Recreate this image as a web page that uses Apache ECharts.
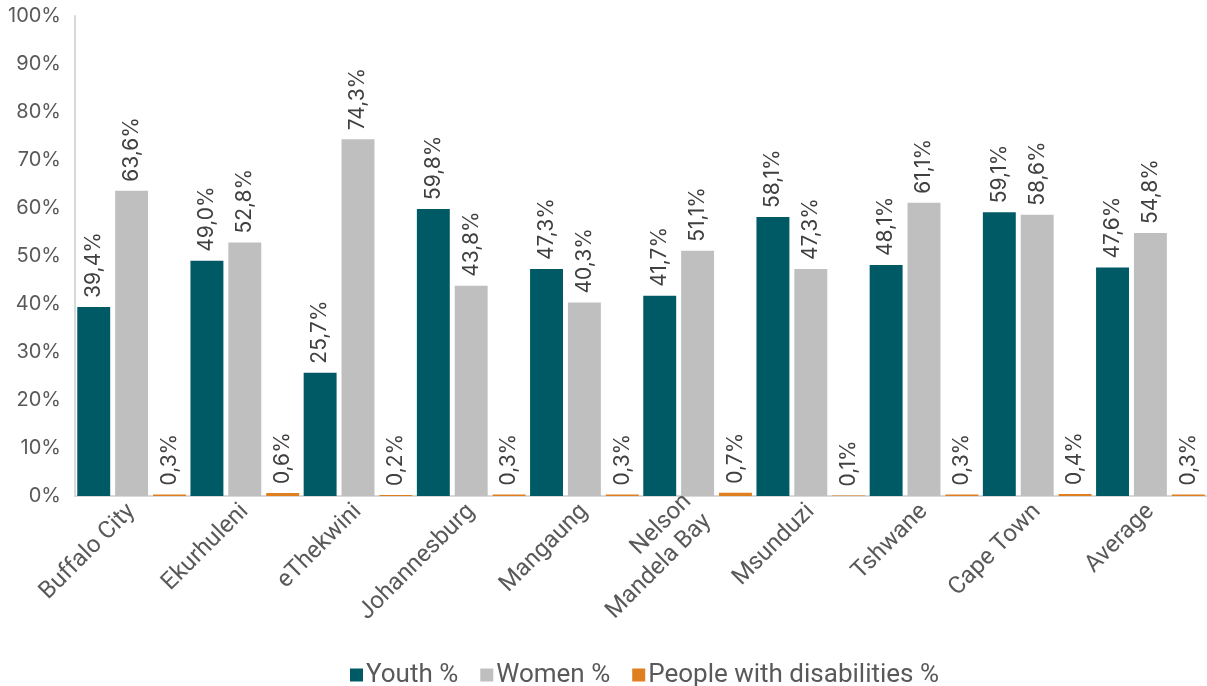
<!DOCTYPE html>
<html>
<head>
<meta charset="utf-8">
<script src="https://cdn.jsdelivr.net/npm/echarts@6/dist/echarts.min.js"></script>
<style>
  html, body { margin: 0; padding: 0; background: #fff; }
  #chart { width: 1207px; height: 686px; }
</style>
</head>
<body>
<div id="chart"></div>
<script>
var categories = ['Buffalo City', 'Ekurhuleni', 'eThekwini', 'Johannesburg', 'Mangaung',
    'Nelson\nMandela Bay', 'Msunduzi', 'Tshwane', 'Cape Town', 'Average'];
var youth = [39.4, 49.0, 25.7, 59.8, 47.3, 41.7, 58.1, 48.1, 59.1, 47.6];
var women = [63.6, 52.8, 74.3, 43.8, 40.3, 51.1, 47.3, 61.1, 58.6, 54.8];
var disabilities = [0.3, 0.6, 0.2, 0.3, 0.3, 0.7, 0.1, 0.3, 0.4, 0.3];

var font = 'Inter, "Noto Sans", sans-serif';
var textFont = 'Roboto, "Liberation Sans", sans-serif';

function pct(p) {
    return p.value.toFixed(1).replace('.', ',') + '%';
}

var barLabel = {
    show: true,
    position: 'top',
    rotate: 90,
    align: 'left',
    verticalAlign: 'middle',
    distance: 9,
    color: '#404040',
    fontSize: 21,
    fontFamily: font,
    formatter: pct
};

var myChart = echarts.init(document.getElementById('chart'));

var option = {
    animation: false,
    grid: {
        left: 75,
        right: 0,
        top: 16,
        bottom: 190
    },
    legend: {
        top: 657,
        left: 345,
        itemWidth: 13,
        itemHeight: 13,
        itemGap: 22,
        icon: 'rect',
        textStyle: {
            color: '#595959',
            fontSize: 26,
            fontFamily: textFont,
            padding: [0, 0, 0, -2]
        }
    },
    xAxis: {
        type: 'category',
        data: categories,
        axisLine: { lineStyle: { color: '#d9d9d9', width: 2 } },
        axisTick: { show: false },
        axisLabel: {
            rotate: 45,
            interval: 0,
            margin: 12,
            color: '#595959',
            fontSize: 24,
            fontFamily: textFont,
            lineHeight: 28
        }
    },
    yAxis: {
        type: 'value',
        min: 0,
        max: 100,
        interval: 10,
        axisLine: { show: true, lineStyle: { color: '#d9d9d9', width: 2 } },
        axisTick: { show: false },
        splitLine: { show: false },
        axisLabel: {
            margin: 14,
            color: '#595959',
            fontSize: 20,
            fontFamily: font,
            formatter: '{value}%'
        }
    },
    series: [
        {
            name: 'Youth %',
            type: 'bar',
            data: youth,
            barGap: '15%',
            barCategoryGap: '4%',
            itemStyle: { color: '#005a66' },
            label: barLabel
        },
        {
            name: 'Women %',
            type: 'bar',
            data: women,
            itemStyle: { color: '#bfbfbf' },
            label: barLabel
        },
        {
            name: 'People with disabilities %',
            type: 'bar',
            data: disabilities,
            itemStyle: { color: '#e07f1f' },
            label: barLabel
        }
    ]
};

myChart.setOption(option);
</script>
</body>
</html>
